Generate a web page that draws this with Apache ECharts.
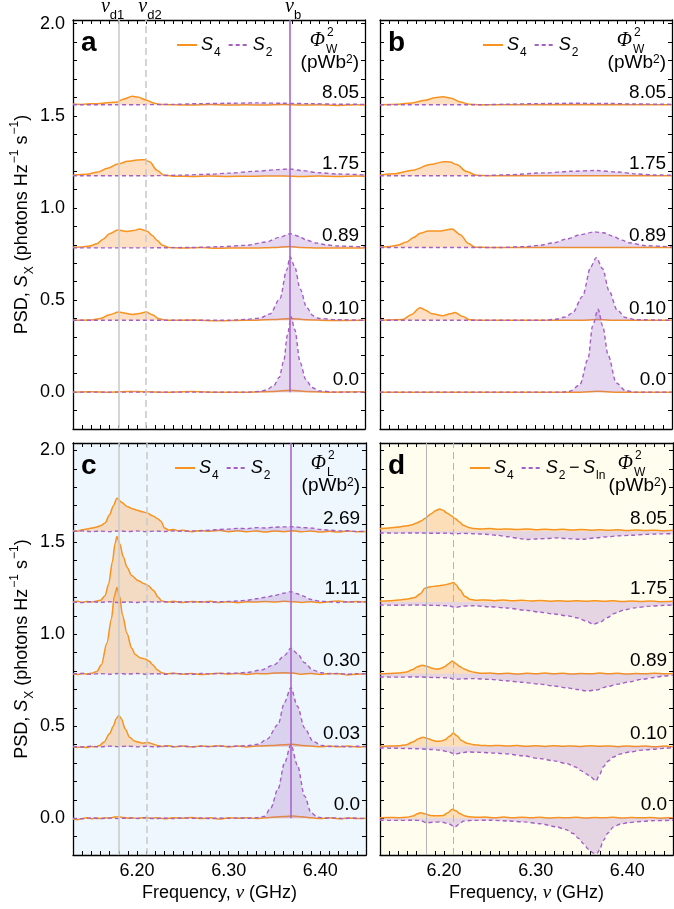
<!DOCTYPE html>
<html><head><meta charset="utf-8">
<script src="https://cdn.jsdelivr.net/npm/echarts@6/dist/echarts.min.js"></script>
<style>html,body{margin:0;padding:0;background:#fff}#c{width:674px;height:909px}</style>
</head><body><div id="c"></div>
<script>
// ---------- data (values relative to each trace's offset) ----------
const freqMin = 6.13, freqMax = 6.45;
const offsets = [0, 0.39, 0.785, 1.175, 1.56];
const labelsW = ['0.0', '0.10', '0.89', '1.75', '8.05'];
const labelsL = ['0.0', '0.03', '0.30', '1.11', '2.69'];
const nuD1 = 6.18, nuD2 = 6.21, nuB = 6.368;
const xTickLabels = ['6.20', '6.30', '6.40'];
const yTickLabels = ['0.0', '0.5', '1.0', '1.5', '2.0'];

// panel a
const a_S4_805 = [[6.13,0.004],[6.14,0.002],[6.15,0.005],[6.16,0.007],[6.17,0.012],[6.178,0.014],[6.185,0.03],[6.195,0.046],[6.201,0.042],[6.21,0.026],[6.218,0.01],[6.225,0.002],[6.24,0.0],[6.26,-0.002],[6.28,0.001],[6.30,-0.002],[6.32,0.0],[6.34,-0.002],[6.36,0.001],[6.38,-0.002],[6.40,0.0],[6.42,-0.004],[6.44,0.0],[6.45,-0.002]];
const a_S2_805 = [[6.13,0],[6.2,0],[6.24,0.002],[6.27,0.006],[6.30,0.008],[6.33,0.01],[6.36,0.008],[6.39,0.006],[6.42,0.003],[6.45,0.002]];
const a_S4_175 = [[6.13,0.002],[6.145,0.008],[6.156,0.018],[6.168,0.04],[6.179,0.063],[6.19,0.078],[6.2,0.085],[6.209,0.087],[6.214,0.075],[6.222,0.03],[6.229,0.004],[6.24,-0.003],[6.26,-0.004],[6.28,-0.002],[6.30,-0.004],[6.32,-0.003],[6.34,-0.002],[6.36,-0.002],[6.38,-0.004],[6.40,-0.002],[6.42,-0.005],[6.44,-0.002],[6.45,-0.003]];
const a_S2_175 = [[6.13,0],[6.22,0],[6.25,0.003],[6.28,0.008],[6.302,0.014],[6.33,0.024],[6.355,0.033],[6.368,0.036],[6.38,0.028],[6.40,0.016],[6.42,0.009],[6.45,0.004]];
const a_S4_089 = [[6.13,0.002],[6.14,0.003],[6.148,0.008],[6.156,0.02],[6.163,0.045],[6.17,0.075],[6.179,0.095],[6.189,0.087],[6.196,0.092],[6.203,0.1],[6.211,0.09],[6.217,0.065],[6.222,0.04],[6.228,0.012],[6.235,0.0],[6.25,-0.003],[6.27,0.0],[6.29,-0.004],[6.31,-0.002],[6.33,-0.003],[6.35,0.0],[6.368,0.006],[6.38,0.0],[6.40,-0.003],[6.42,-0.002],[6.45,-0.003]];
const a_S2_089 = [[6.13,-0.002],[6.2,-0.002],[6.26,0],[6.29,0.004],[6.32,0.012],[6.342,0.03],[6.356,0.055],[6.368,0.075],[6.378,0.06],[6.386,0.04],[6.397,0.024],[6.408,0.014],[6.42,0.008],[6.45,0.003]];
const a_S4_010 = [[6.13,0],[6.15,0.002],[6.16,0.01],[6.17,0.03],[6.18,0.045],[6.186,0.04],[6.195,0.032],[6.203,0.037],[6.21,0.045],[6.217,0.03],[6.224,0.008],[6.232,0],[6.26,0.001],[6.29,-0.002],[6.32,0.0],[6.35,0.004],[6.368,0.01],[6.385,0.003],[6.41,-0.001],[6.45,0]];
const a_S2_010 = [[6.13,0],[6.30,0],[6.32,0.005],[6.335,0.012],[6.346,0.035],[6.357,0.12],[6.364,0.27],[6.368,0.345],[6.373,0.29],[6.379,0.17],[6.386,0.07],[6.393,0.025],[6.40,0.01],[6.42,0.003],[6.45,0]];
const a_S4_000 = [[6.13,0],[6.15,0.002],[6.17,0.0],[6.19,0.004],[6.21,0.002],[6.23,0.0],[6.26,0.003],[6.29,0.0],[6.32,0.0],[6.35,0.004],[6.368,0.01],[6.385,0.004],[6.41,0.0],[6.45,0.002]];
const a_S2_000 = [[6.13,0],[6.32,0],[6.335,0.004],[6.342,0.012],[6.35,0.035],[6.356,0.08],[6.361,0.17],[6.365,0.31],[6.369,0.41],[6.373,0.34],[6.379,0.16],[6.385,0.07],[6.392,0.025],[6.40,0.006],[6.42,0],[6.45,0]];

// panel b
const b_S4_805 = [[6.13,0.0],[6.15,0.003],[6.165,0.01],[6.18,0.025],[6.19,0.038],[6.199,0.043],[6.208,0.035],[6.218,0.015],[6.228,0.003],[6.24,0],[6.45,0]];
const b_S2_805 = [[6.13,0],[6.24,0],[6.27,0.003],[6.30,0.006],[6.34,0.008],[6.38,0.007],[6.41,0.004],[6.45,0.002]];
const b_S4_175 = [[6.13,0.003],[6.145,0.01],[6.166,0.03],[6.185,0.06],[6.2,0.076],[6.207,0.074],[6.214,0.06],[6.225,0.022],[6.236,0.002],[6.25,0],[6.45,0]];
const b_S2_175 = [[6.13,0],[6.24,0],[6.27,0.005],[6.31,0.015],[6.34,0.024],[6.367,0.028],[6.39,0.02],[6.41,0.01],[6.43,0.004],[6.45,0.002]];
const b_S4_089 = [[6.13,0.002],[6.141,0.006],[6.15,0.014],[6.159,0.03],[6.167,0.055],[6.174,0.077],[6.183,0.09],[6.196,0.09],[6.209,0.1],[6.218,0.07],[6.227,0.022],[6.234,0.002],[6.25,0],[6.45,0]];
const b_S2_089 = [[6.13,0],[6.26,0],[6.29,0.005],[6.305,0.012],[6.32,0.025],[6.334,0.045],[6.35,0.07],[6.365,0.085],[6.375,0.08],[6.385,0.062],[6.395,0.04],[6.403,0.026],[6.421,0.01],[6.45,0.003]];
const b_S4_010 = [[6.13,0],[6.155,0.004],[6.164,0.03],[6.174,0.068],[6.18,0.055],[6.187,0.035],[6.199,0.025],[6.207,0.035],[6.212,0.042],[6.221,0.02],[6.228,0.003],[6.24,0],[6.35,0.0],[6.367,0.004],[6.39,0],[6.45,0]];
const b_S2_010 = [[6.13,0],[6.31,0],[6.323,0.006],[6.333,0.018],[6.341,0.04],[6.352,0.13],[6.361,0.29],[6.367,0.34],[6.374,0.28],[6.381,0.16],[6.39,0.055],[6.399,0.015],[6.41,0.003],[6.45,0]];
const b_S4_000 = [[6.13,0],[6.35,0],[6.368,0.005],[6.39,0],[6.45,0]];
const b_S2_000 = [[6.13,0],[6.33,0],[6.338,0.005],[6.349,0.04],[6.358,0.18],[6.363,0.36],[6.369,0.45],[6.374,0.36],[6.38,0.2],[6.389,0.05],[6.399,0.008],[6.41,0],[6.45,0]];

// panel c
const c_S4_269 = [[6.13,0.004],[6.135,0.0],[6.14,0.008],[6.145,0.012],[6.149,0.016],[6.155,0.022],[6.16,0.03],[6.165,0.045],[6.17,0.09],[6.174,0.138],[6.178,0.18],[6.183,0.158],[6.189,0.135],[6.195,0.122],[6.2,0.115],[6.206,0.106],[6.211,0.1],[6.217,0.085],[6.222,0.07],[6.226,0.055],[6.23,0.018],[6.235,0.006],[6.24,0.01],[6.245,0.002],[6.25,0.006],[6.26,-0.002],[6.27,0.004],[6.28,0.0],[6.29,0.005],[6.30,-0.002],[6.31,0.003],[6.32,-0.003],[6.33,0.002],[6.34,-0.004],[6.35,0.002],[6.36,-0.002],[6.37,0.003],[6.38,-0.003],[6.39,0.002],[6.40,-0.004],[6.41,0.0],[6.42,-0.004],[6.43,0.002],[6.44,-0.003],[6.45,-0.001]];
const c_S2_269 = [[6.13,0],[6.14,0.002],[6.15,-0.002],[6.16,0.001],[6.17,-0.002],[6.18,0.002],[6.19,-0.001],[6.20,0.002],[6.21,-0.002],[6.22,0.001],[6.23,-0.001],[6.24,0.002],[6.25,0.0],[6.26,0.002],[6.27,0.003],[6.28,0.006],[6.29,0.01],[6.30,0.012],[6.31,0.016],[6.32,0.014],[6.33,0.02],[6.34,0.018],[6.35,0.022],[6.36,0.024],[6.37,0.025],[6.38,0.02],[6.39,0.018],[6.40,0.01],[6.41,0.006],[6.42,0.002],[6.43,0.003],[6.44,-0.001],[6.45,0.002]];
const c_S4_111 = [[6.13,0.0],[6.135,0.004],[6.14,-0.002],[6.145,0.003],[6.15,0.0],[6.155,0.005],[6.16,0.01],[6.165,0.035],[6.169,0.1],[6.173,0.22],[6.176,0.32],[6.178,0.357],[6.181,0.317],[6.185,0.245],[6.189,0.19],[6.194,0.145],[6.201,0.118],[6.208,0.1],[6.212,0.09],[6.218,0.063],[6.223,0.027],[6.227,0.006],[6.232,0.0],[6.24,0.004],[6.25,-0.002],[6.26,0.003],[6.27,0.0],[6.28,0.004],[6.29,-0.002],[6.30,0.002],[6.31,-0.003],[6.32,0.002],[6.33,0.0],[6.34,0.003],[6.35,0.0],[6.36,0.004],[6.37,0.002],[6.38,-0.002],[6.39,0.002],[6.40,-0.003],[6.41,0.002],[6.42,0.006],[6.43,0.0],[6.44,0.003],[6.45,0.0]];
const c_S2_111 = [[6.13,0.0],[6.14,-0.002],[6.15,0.002],[6.16,-0.001],[6.17,0.002],[6.18,-0.002],[6.19,0.001],[6.20,-0.002],[6.21,0.002],[6.22,0],[6.23,0.002],[6.24,-0.001],[6.25,0.002],[6.26,0.0],[6.27,0.002],[6.28,-0.001],[6.29,0.002],[6.30,0.003],[6.31,0.006],[6.32,0.01],[6.33,0.018],[6.34,0.026],[6.35,0.036],[6.36,0.048],[6.368,0.057],[6.375,0.045],[6.38,0.035],[6.39,0.014],[6.40,0.004],[6.41,0.002],[6.42,-0.002],[6.43,0.002],[6.44,0.0],[6.45,0.002]];
const c_S4_030 = [[6.13,0.0],[6.135,-0.004],[6.14,0.002],[6.145,-0.002],[6.15,0.003],[6.156,0.013],[6.161,0.049],[6.167,0.167],[6.172,0.3],[6.175,0.42],[6.178,0.47],[6.181,0.42],[6.184,0.32],[6.189,0.22],[6.194,0.14],[6.198,0.105],[6.203,0.088],[6.209,0.08],[6.213,0.07],[6.217,0.05],[6.222,0.022],[6.227,0.006],[6.232,0.0],[6.24,0.003],[6.25,-0.002],[6.26,0.002],[6.27,-0.004],[6.28,0.0],[6.29,0.003],[6.30,-0.002],[6.31,0.002],[6.32,-0.003],[6.33,0.002],[6.34,0.0],[6.35,0.004],[6.36,0.006],[6.37,0.004],[6.38,-0.002],[6.39,0.002],[6.40,-0.003],[6.41,0.002],[6.42,0.0],[6.43,-0.006],[6.44,-0.002],[6.45,0.0]];
const c_S2_030 = [[6.13,0.0],[6.14,0.002],[6.15,-0.002],[6.16,0.001],[6.17,-0.002],[6.18,0.002],[6.19,-0.001],[6.20,0.002],[6.21,-0.002],[6.22,0.001],[6.23,-0.002],[6.24,0.002],[6.25,0.0],[6.26,-0.002],[6.27,0.002],[6.28,0.0],[6.29,0.002],[6.30,0.003],[6.31,0.004],[6.32,0.008],[6.335,0.02],[6.35,0.05],[6.361,0.1],[6.368,0.14],[6.375,0.11],[6.383,0.06],[6.392,0.02],[6.401,0.006],[6.41,0.0],[6.42,0.002],[6.43,-0.002],[6.44,0.001],[6.45,0.0]];
const c_S4_003 = [[6.13,0.0],[6.135,-0.005],[6.14,-0.002],[6.145,-0.006],[6.15,0.0],[6.155,-0.002],[6.159,0.006],[6.164,0.025],[6.17,0.07],[6.174,0.11],[6.177,0.15],[6.18,0.168],[6.183,0.15],[6.187,0.095],[6.192,0.05],[6.197,0.03],[6.201,0.025],[6.206,0.018],[6.212,0.022],[6.217,0.014],[6.222,0.006],[6.228,0.0],[6.235,0.004],[6.24,-0.002],[6.25,0.002],[6.26,-0.003],[6.27,0.002],[6.28,0.0],[6.29,0.004],[6.30,-0.002],[6.31,0.002],[6.32,-0.003],[6.33,0.002],[6.34,0.004],[6.35,0.006],[6.36,0.01],[6.37,0.012],[6.38,0.006],[6.39,0.002],[6.40,-0.002],[6.41,0.002],[6.42,-0.002],[6.43,0.002],[6.44,-0.003],[6.45,0.0]];
const c_S2_003 = [[6.13,0.0],[6.14,-0.003],[6.15,0.001],[6.16,-0.002],[6.17,0.002],[6.18,-0.001],[6.19,0.002],[6.20,-0.002],[6.21,0.001],[6.22,-0.002],[6.23,0.002],[6.24,-0.001],[6.25,0.002],[6.26,-0.002],[6.27,0.001],[6.28,-0.001],[6.29,0.002],[6.30,0.0],[6.31,0.002],[6.32,0.004],[6.332,0.012],[6.342,0.04],[6.354,0.12],[6.361,0.24],[6.368,0.32],[6.375,0.22],[6.383,0.1],[6.392,0.03],[6.401,0.006],[6.41,0.0],[6.42,0.002],[6.43,-0.002],[6.44,0.001],[6.45,0.0]];
const c_S4_000 = [[6.13,-0.004],[6.135,-0.008],[6.14,-0.002],[6.145,0.002],[6.15,-0.003],[6.155,0.001],[6.16,-0.002],[6.165,0.003],[6.17,0.0],[6.175,0.006],[6.18,0.008],[6.185,0.004],[6.19,0.0],[6.195,0.003],[6.2,-0.002],[6.205,0.002],[6.21,0.004],[6.215,-0.001],[6.22,0.002],[6.23,-0.003],[6.24,0.003],[6.25,0.0],[6.26,0.004],[6.27,-0.002],[6.28,0.002],[6.29,-0.004],[6.30,0.002],[6.31,0.0],[6.32,0.003],[6.33,-0.002],[6.34,0.002],[6.35,0.006],[6.36,0.01],[6.37,0.012],[6.38,0.008],[6.39,0.002],[6.40,-0.002],[6.41,0.002],[6.42,-0.003],[6.43,0.001],[6.44,-0.002],[6.45,0.0]];
const c_S2_000 = [[6.13,0.0],[6.14,-0.003],[6.15,0.002],[6.16,-0.002],[6.17,0.001],[6.18,-0.002],[6.19,0.002],[6.20,-0.001],[6.21,0.002],[6.22,-0.002],[6.23,0.001],[6.24,-0.002],[6.25,0.002],[6.26,-0.001],[6.27,0.002],[6.28,-0.002],[6.29,0.001],[6.30,-0.001],[6.31,0.002],[6.32,0.0],[6.33,0.003],[6.339,0.01],[6.346,0.055],[6.354,0.16],[6.361,0.3],[6.368,0.4],[6.375,0.29],[6.383,0.12],[6.39,0.03],[6.397,0.006],[6.405,0.0],[6.415,0.002],[6.425,-0.002],[6.435,0.001],[6.445,-0.001],[6.45,0.0]];

// panel d (S2 - S_ln)
const d_S4_805 = [[6.13,0.015],[6.14,0.018],[6.15,0.023],[6.155,0.027],[6.16,0.03],[6.165,0.036],[6.17,0.045],[6.175,0.056],[6.179,0.069],[6.186,0.096],[6.191,0.113],[6.195,0.121],[6.199,0.114],[6.203,0.1],[6.208,0.085],[6.212,0.069],[6.217,0.05],[6.221,0.033],[6.226,0.022],[6.232,0.015],[6.24,0.013],[6.25,0.015],[6.26,0.011],[6.27,0.013],[6.28,0.01],[6.29,0.012],[6.30,0.009],[6.31,0.011],[6.32,0.008],[6.33,0.011],[6.34,0.007],[6.35,0.01],[6.36,0.006],[6.37,0.009],[6.38,0.005],[6.39,0.008],[6.40,0.004],[6.41,0.007],[6.42,0.004],[6.43,0.006],[6.44,0.003],[6.45,0.005]];
const d_S2_805 = [[6.13,-0.009],[6.15,-0.01],[6.17,-0.009],[6.19,-0.011],[6.205,-0.01],[6.212,-0.014],[6.22,-0.011],[6.232,-0.013],[6.245,-0.016],[6.258,-0.022],[6.27,-0.03],[6.283,-0.04],[6.29,-0.045],[6.30,-0.042],[6.31,-0.04],[6.323,-0.036],[6.335,-0.04],[6.345,-0.043],[6.352,-0.043],[6.365,-0.036],[6.378,-0.03],[6.39,-0.025],[6.403,-0.022],[6.42,-0.017],[6.435,-0.014],[6.45,-0.013]];
const d_S4_175 = [[6.13,0.004],[6.14,0.007],[6.15,0.011],[6.16,0.017],[6.168,0.025],[6.174,0.045],[6.179,0.075],[6.185,0.084],[6.192,0.087],[6.2,0.093],[6.206,0.1],[6.21,0.107],[6.213,0.095],[6.217,0.068],[6.223,0.03],[6.228,0.016],[6.235,0.01],[6.245,0.012],[6.255,0.008],[6.265,0.011],[6.275,0.007],[6.285,0.01],[6.295,0.006],[6.305,0.009],[6.315,0.005],[6.325,0.008],[6.335,0.004],[6.345,0.007],[6.355,0.005],[6.365,0.008],[6.375,0.004],[6.385,0.007],[6.395,0.003],[6.405,0.006],[6.415,0.003],[6.425,0.006],[6.435,0.002],[6.45,0.004]];
const d_S2_175 = [[6.13,-0.016],[6.15,-0.017],[6.17,-0.016],[6.19,-0.018],[6.205,-0.02],[6.212,-0.03],[6.22,-0.022],[6.232,-0.02],[6.25,-0.025],[6.268,-0.032],[6.29,-0.045],[6.305,-0.055],[6.32,-0.065],[6.335,-0.075],[6.345,-0.085],[6.355,-0.103],[6.363,-0.12],[6.37,-0.11],[6.378,-0.085],[6.387,-0.06],[6.397,-0.042],[6.41,-0.03],[6.425,-0.022],[6.44,-0.018],[6.45,-0.016]];
const d_S4_089 = [[6.13,0.0],[6.14,0.002],[6.15,0.004],[6.159,0.01],[6.165,0.022],[6.171,0.038],[6.176,0.047],[6.182,0.04],[6.187,0.03],[6.192,0.025],[6.197,0.03],[6.201,0.04],[6.205,0.055],[6.209,0.07],[6.213,0.055],[6.217,0.04],[6.222,0.026],[6.227,0.016],[6.233,0.008],[6.239,0.003],[6.25,0.004],[6.26,0.0],[6.27,0.003],[6.28,-0.001],[6.29,0.003],[6.30,0.0],[6.31,0.004],[6.32,0.0],[6.33,0.003],[6.34,-0.001],[6.35,0.002],[6.36,0.0],[6.37,0.004],[6.38,0.0],[6.39,0.003],[6.40,-0.001],[6.41,0.002],[6.42,0.0],[6.43,0.003],[6.44,0.0],[6.45,0.002]];
const d_S2_089 = [[6.13,-0.017],[6.15,-0.018],[6.17,-0.017],[6.19,-0.02],[6.205,-0.022],[6.212,-0.03],[6.22,-0.027],[6.232,-0.026],[6.25,-0.03],[6.268,-0.038],[6.285,-0.046],[6.305,-0.056],[6.32,-0.066],[6.334,-0.076],[6.345,-0.085],[6.356,-0.093],[6.366,-0.088],[6.378,-0.07],[6.39,-0.056],[6.403,-0.043],[6.416,-0.03],[6.429,-0.02],[6.44,-0.012],[6.45,-0.007]];
const d_S4_010 = [[6.13,0.0],[6.14,0.002],[6.15,0.004],[6.159,0.01],[6.166,0.025],[6.172,0.042],[6.177,0.05],[6.183,0.042],[6.188,0.032],[6.192,0.028],[6.197,0.03],[6.201,0.037],[6.206,0.055],[6.21,0.073],[6.214,0.058],[6.219,0.033],[6.225,0.018],[6.232,0.01],[6.24,0.006],[6.25,0.004],[6.26,0.006],[6.27,0.002],[6.28,0.005],[6.29,0.001],[6.30,0.004],[6.31,0.0],[6.32,0.004],[6.33,0.001],[6.34,0.003],[6.35,0.0],[6.36,0.004],[6.37,0.001],[6.38,0.003],[6.39,-0.001],[6.40,0.003],[6.41,0.0],[6.42,0.002],[6.43,-0.001],[6.44,0.002],[6.45,-0.002]];
const d_S2_010 = [[6.13,-0.008],[6.15,-0.01],[6.17,-0.012],[6.185,-0.016],[6.196,-0.02],[6.204,-0.028],[6.212,-0.042],[6.218,-0.035],[6.225,-0.03],[6.24,-0.032],[6.255,-0.036],[6.268,-0.04],[6.285,-0.05],[6.305,-0.066],[6.32,-0.078],[6.334,-0.093],[6.343,-0.11],[6.349,-0.13],[6.355,-0.148],[6.36,-0.166],[6.366,-0.187],[6.37,-0.15],[6.374,-0.11],[6.379,-0.08],[6.385,-0.057],[6.393,-0.04],[6.403,-0.03],[6.416,-0.02],[6.429,-0.015],[6.44,-0.01],[6.45,-0.006]];
const d_S4_000 = [[6.13,0.003],[6.14,0.004],[6.15,0.003],[6.159,0.005],[6.166,0.012],[6.171,0.024],[6.174,0.03],[6.179,0.024],[6.185,0.015],[6.192,0.013],[6.199,0.015],[6.204,0.03],[6.209,0.049],[6.213,0.04],[6.217,0.025],[6.222,0.014],[6.227,0.008],[6.235,0.005],[6.245,0.006],[6.255,0.003],[6.265,0.006],[6.275,0.002],[6.285,0.005],[6.295,0.002],[6.305,0.005],[6.315,0.001],[6.325,0.004],[6.335,0.002],[6.345,0.005],[6.355,0.001],[6.365,0.004],[6.375,0.002],[6.385,0.005],[6.395,0.001],[6.405,0.004],[6.415,0.002],[6.425,0.004],[6.435,0.0],[6.445,0.003],[6.45,0.002]];
const d_S2_000 = [[6.13,-0.011],[6.15,-0.012],[6.165,-0.011],[6.174,-0.012],[6.181,-0.025],[6.188,-0.022],[6.196,-0.02],[6.204,-0.028],[6.212,-0.047],[6.217,-0.03],[6.221,-0.016],[6.23,-0.012],[6.25,-0.011],[6.27,-0.015],[6.287,-0.02],[6.305,-0.03],[6.323,-0.047],[6.333,-0.062],[6.341,-0.083],[6.347,-0.11],[6.352,-0.138],[6.358,-0.17],[6.363,-0.19],[6.367,-0.192],[6.37,-0.17],[6.374,-0.12],[6.379,-0.08],[6.385,-0.047],[6.392,-0.033],[6.4,-0.025],[6.415,-0.018],[6.43,-0.013],[6.45,-0.011]];

// ---------- layout / style ----------
const ORANGE = '#f7931e', PURPLE = '#a35fc4', NUB = '#a966c9';
const ORANGE_FILL = 'rgba(250,170,90,0.36)', PURPLE_FILL = 'rgba(165,110,200,0.28)';
const FONT = '"Liberation Sans", Arial, sans-serif';
const SERIF = '"Liberation Serif", "DejaVu Serif", serif';

const panels = [
  {letter:'a', left:73, top:20, width:292, height:409, ymax:2.02, bg:null, S4:[a_S4_000,a_S4_010,a_S4_089,a_S4_175,a_S4_805], S2:[a_S2_000,a_S2_010,a_S2_089,a_S2_175,a_S2_805], labels:labelsW, phi:'W', s2name:'S2', lines:'full', topLabels:true, legLeft:171},
  {letter:'b', left:380, top:20, width:292, height:409, ymax:2.02, bg:null, S4:[b_S4_000,b_S4_010,b_S4_089,b_S4_175,b_S4_805], S2:[b_S2_000,b_S2_010,b_S2_089,b_S2_175,b_S2_805], labels:labelsW, phi:'W', s2name:'S2', lines:'none', legLeft:477},
  {letter:'c', left:73, top:443, width:293, height:412, ymax:2.04, bg:'#eef7fd', S4:[c_S4_000,c_S4_003,c_S4_030,c_S4_111,c_S4_269], S2:[c_S2_000,c_S2_003,c_S2_030,c_S2_111,c_S2_269], labels:labelsL, phi:'L', s2name:'S2', lines:'full', legLeft:169},
  {letter:'d', left:380, top:443, width:293, height:412, ymax:2.04, bg:'#fefdee', S4:[d_S4_000,d_S4_010,d_S4_089,d_S4_175,d_S4_805], S2:[d_S2_000,d_S2_010,d_S2_089,d_S2_175,d_S2_805], labels:labelsW, phi:'W', s2name:'S2d', lines:'thin', legLeft:464}
];

const subRich = {
  t: {fontSize: 18, fontFamily: FONT, color: '#000', lineHeight: 22},
  i: {fontSize: 18, fontFamily: FONT, fontStyle: 'italic', color: '#000', lineHeight: 22},
  s: {fontSize: 12, fontFamily: FONT, color: '#000', verticalAlign: 'bottom', lineHeight: 12, padding: [0, 0, -3, 1]},
  p: {fontSize: 12, fontFamily: FONT, color: '#000', verticalAlign: 'top', lineHeight: 12, padding: [-2, 0, 0, 1]},
  n: {fontSize: 19, fontFamily: SERIF, fontStyle: 'italic', color: '#000', lineHeight: 22}
};

const grid = [], xAxis = [], yAxis = [], series = [], legend = [], graphic = [];

function xFmt(v) { const r = Math.round(v * 100); const s = (r / 100).toFixed(2); return xTickLabels.indexOf(s) >= 0 && Math.abs(v * 100 - r) < 1e-6 ? s : ''; }
function yFmt(v) { const r = Math.round(v * 10); const s = (r / 10).toFixed(1); return (Math.abs(v * 10 - r) < 1e-6 && r % 5 === 0 && yTickLabels.indexOf(s) >= 0) ? s : ''; }

panels.forEach((P, g) => {
  grid.push({left: P.left, top: P.top, width: P.width, height: P.height, show: !!P.bg, backgroundColor: P.bg || 'transparent', borderWidth: 0, containLabel: false, outerBoundsMode: 'none'});
  const axLine = {show: true, onZero: false, lineStyle: {color: '#000', width: 1.3}};
  const tick = {show: true, inside: true, length: 4, lineStyle: {color: '#000', width: 1}};
  const bottom = g >= 2;
  const left = g % 2 === 0;
  xAxis.push({type: 'value', gridIndex: g, min: freqMin, max: freqMax, interval: 0.01, position: 'bottom',
    axisLine: axLine, axisTick: tick, splitLine: {show: false},
    axisLabel: {show: bottom, interval: 0, formatter: xFmt, margin: 7, fontSize: 18, fontFamily: FONT, color: '#000', hideOverlap: false, showMinLabel: true, showMaxLabel: true},
    name: bottom ? '{t|Frequency, }{n|ν}{t| (GHz)}' : '', nameLocation: 'middle', nameGap: 27, nameTextStyle: {rich: subRich}});
  yAxis.push({type: 'value', gridIndex: g, min: -0.2, max: P.ymax, interval: 0.1, position: 'left',
    axisLine: axLine, axisTick: tick, splitLine: {show: false},
    axisLabel: {show: left, interval: 0, formatter: yFmt, margin: 8, fontSize: 18, fontFamily: FONT, color: '#000', hideOverlap: false},
    name: left ? '{t|PSD, }{i|S}{s|X}{t| (photons Hz}{p|−1}{t| s}{p|−1}{t|)}' : '', nameLocation: 'middle', nameGap: 40, nameRotate: 90, nameTextStyle: {rich: subRich}});
});
panels.forEach((P, g) => {
  const axLine = {show: true, onZero: false, lineStyle: {color: '#000', width: 1.3}};
  const tick = {show: true, inside: true, length: 4, lineStyle: {color: '#000', width: 1}};
  xAxis.push({type: 'value', gridIndex: g, min: freqMin, max: freqMax, interval: 0.01, position: 'top', axisLine: axLine, axisTick: tick, axisLabel: {show: false}, splitLine: {show: false}});
  yAxis.push({type: 'value', gridIndex: g, min: -0.2, max: P.ymax, interval: 0.1, position: 'right', axisLine: axLine, axisTick: tick, axisLabel: {show: false}, splitLine: {show: false}});
});

const lblRich = {
  n: {fontSize: 20, fontFamily: SERIF, fontStyle: 'italic', color: '#000'},
  s: {fontSize: 13, fontFamily: FONT, color: '#000', verticalAlign: 'bottom', padding: [0, 0, -5, 0]}
};

panels.forEach((P, g) => {
  // reference lines
  const ml = [];
  if (P.lines !== 'none') {
    const thin = P.lines === 'thin';
    const gc = thin ? '#b4b4b4' : '#cbcbcb', gw = thin ? 1 : 1.6;
    ml.push([{coord: [nuD1, -0.2], lineStyle: {color: gc, width: gw, type: 'solid'}, label: {show: !!P.topLabels, position: 'end', distance: 3, offset: [-6, 0], formatter: '{n|ν}{s|d1}', rich: lblRich}}, {coord: [nuD1, P.ymax]}]);
    ml.push([{coord: [nuD2, -0.2], lineStyle: {color: gc, width: gw, type: [7, 4]}, label: {show: !!P.topLabels, position: 'end', distance: 3, offset: [4, 0], formatter: '{n|ν}{s|d2}', rich: lblRich}}, {coord: [nuD2, P.ymax]}]);
    if (!thin) {
      ml.push([{coord: [nuB, 0], lineStyle: {color: NUB, width: 1.6, type: 'solid'}, label: {show: !!P.topLabels, position: 'end', distance: 3, offset: [3, 0], formatter: '{n|ν}{s|b}', rich: lblRich}}, {coord: [nuB, P.ymax]}]);
    }
  }
  series.push({type: 'line', name: 'refs' + g, xAxisIndex: g, yAxisIndex: g, data: [], clip: false, z: 1, silent: true,
    markLine: {symbol: 'none', silent: true, animation: false, data: ml}});

  for (let k = 0; k < 5; k++) {
    const off = offsets[k];
    series.push({type: 'line', name: 'S4', xAxisIndex: g, yAxisIndex: g, z: 3,
      data: P.S4[k].map(p => [p[0], p[1] + off]), smooth: 0.3, smoothMonotone: 'x', symbol: 'none', showSymbol: false,
      lineStyle: {color: ORANGE, width: 1.5}, itemStyle: {color: ORANGE},
      areaStyle: {origin: off, color: ORANGE_FILL, opacity: 1}, animation: false, silent: true,
      markPoint: {symbol: 'rect', symbolSize: 0, silent: true, animation: false,
        label: {show: true, position: 'left', distance: 0, offset: [0, g < 2 ? -12 : -13], fontSize: 19, fontFamily: FONT, color: '#000'},
        data: [{coord: [freqMax - 0.0065, off], value: P.labels[k], label: {formatter: P.labels[k]}}]}});
    series.push({type: 'line', name: P.s2name, xAxisIndex: g, yAxisIndex: g, z: 4,
      data: P.S2[k].map(p => [p[0], p[1] + off]), smooth: 0.3, smoothMonotone: 'x', symbol: 'none', showSymbol: false,
      lineStyle: {color: PURPLE, width: 1.4, type: [4, 3]}, itemStyle: {color: PURPLE},
      areaStyle: {origin: off, color: PURPLE_FILL, opacity: 1}, animation: false, silent: true});
  }

  legend.push({left: P.legLeft, top: P.top + 11, orient: 'horizontal', itemWidth: 20, itemHeight: 10, itemGap: 7,
    selectedMode: false, data: ['S4', P.s2name], itemStyle: {opacity: 0, borderWidth: 0},
    formatter: n => n === 'S4' ? '{i|S}{s|4}' : (n === 'S2' ? '{i|S}{s|2}' : '{i|S}{s|2}{t|\u2009−\u2009}{i|S}{s|ln}'),
    textStyle: {fontSize: 18, fontFamily: FONT, color: '#000', rich: subRich, padding: [0, 0, 0, -1]}});

  const R = P.left + P.width, T = P.top;
  graphic.push({type: 'text', x: P.left + 8, y: T + 23, silent: true, style: {text: P.letter, font: 'bold 28px ' + FONT, fill: '#000', verticalAlign: 'middle', align: 'left'}});
  graphic.push({type: 'text', x: R - 40, y: T + 21, silent: true, style: {text: 'Φ', font: 'italic 20px ' + SERIF, fill: '#000', verticalAlign: 'middle', align: 'right'}});
  graphic.push({type: 'text', x: R - 38, y: T + 13, silent: true, style: {text: '2', font: '12px ' + FONT, fill: '#000', verticalAlign: 'middle', align: 'left'}});
  graphic.push({type: 'text', x: R - 39, y: T + 30, silent: true, style: {text: P.phi, font: '12px ' + FONT, fill: '#000', verticalAlign: 'middle', align: 'left'}});
  graphic.push({type: 'text', x: R - 6, y: T + 43, silent: true, style: {text: '(pWb{p|2})', font: '19px ' + FONT, fill: '#000', verticalAlign: 'middle', align: 'right',
    rich: {p: {fontSize: 12, fontFamily: FONT, fill: '#000', verticalAlign: 'top', lineHeight: 12}}}});
});

const chart = echarts.init(document.getElementById('c'), null, {renderer: 'canvas'});
chart.setOption({animation: false, backgroundColor: '#fff', grid, xAxis, yAxis, series, legend, graphic});
</script></body></html>
